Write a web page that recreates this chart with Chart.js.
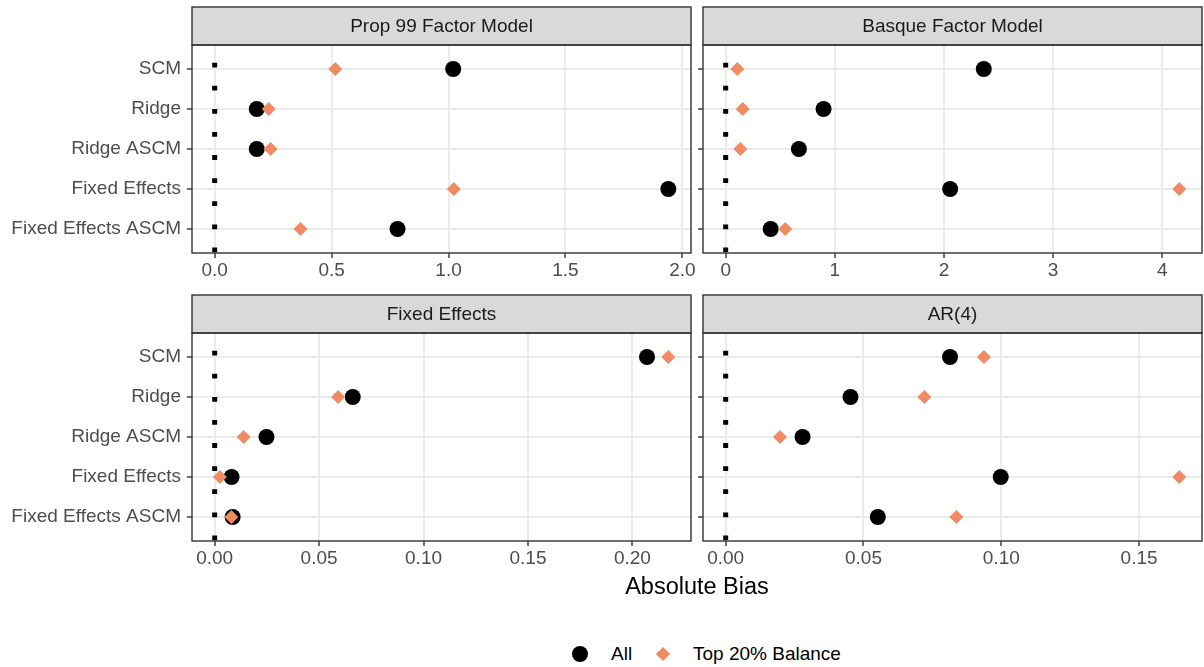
<!DOCTYPE html>
<html>
<head>
<meta charset="utf-8">
<script src="https://cdn.jsdelivr.net/npm/chart.js@4.4.1/dist/chart.umd.min.js"></script>
<style>
  html, body { margin:0; padding:0; background:#fff; }
  body { width:1204px; height:667px; position:relative; overflow:hidden; font-family:"Liberation Sans", Arial, sans-serif; }
  canvas { position:absolute; }
  .xtitle { position:absolute; left:192px; width:1010px; top:572px; text-align:center; font-size:23.5px; color:#000; line-height:28px; }
  .leg { position:absolute; top:642px; height:24px; line-height:24px; font-size:19px; color:#000; }
  .dot { position:absolute; width:16px; height:16px; border-radius:50%; background:#000; left:572px; top:646px; }
  .dia { position:absolute; width:10px; height:10px; background:#EF8A62; transform:rotate(45deg); left:658px; top:649px; }
</style>
</head>
<body>
<canvas id="c1" width="700" height="290" style="left:0;top:0"></canvas>
<canvas id="c2" width="514" height="290" style="left:690px;top:0"></canvas>
<canvas id="c3" width="700" height="288" style="left:0;top:290px"></canvas>
<canvas id="c4" width="514" height="288" style="left:690px;top:290px"></canvas>
<div class="xtitle">Absolute Bias</div>
<div class="dot"></div>
<div class="leg" style="left:611px">All</div>
<div class="dia"></div>
<div class="leg" style="left:693px">Top 20% Balance</div>
<script>
const categories = ['SCM', 'Ridge', 'Ridge ASCM', 'Fixed Effects', 'Fixed Effects ASCM'];
const panelTitles = ['Prop 99 Factor Model', 'Basque Factor Model', 'Fixed Effects', 'AR(4)'];

const prop99All = [1.02, 0.18, 0.18, 1.94, 0.782];
const prop99Top = [0.516, 0.231, 0.239, 1.023, 0.367];
const basqueAll = [2.365, 0.897, 0.671, 2.057, 0.412];
const basqueTop = [0.107, 0.156, 0.134, 4.157, 0.546];
const feAll = [0.207, 0.0661, 0.0248, 0.0081, 0.0086];
const feTop = [0.2172, 0.0591, 0.0139, 0.0025, 0.0080];
const arAll = [0.0814, 0.0453, 0.0279, 0.0998, 0.0552];
const arTop = [0.0937, 0.0721, 0.0197, 0.1646, 0.0837];

const prop99Ticks = [0, 0.5, 1, 1.5, 2];
const prop99TickLabels = ['0.0', '0.5', '1.0', '1.5', '2.0'];
const basqueTicks = [0, 1, 2, 3, 4];
const basqueTickLabels = ['0', '1', '2', '3', '4'];
const feTicks = [0, 0.05, 0.1, 0.15, 0.2];
const feTickLabels = ['0.00', '0.05', '0.10', '0.15', '0.20'];
const arTicks = [0, 0.05, 0.1, 0.15];
const arTickLabels = ['0.00', '0.05', '0.10', '0.15'];

const FONT = '"Liberation Sans", Arial, sans-serif';
const ORANGE = '#EF8A62';

const panelPlugin = {
  id: 'panelDeco',
  afterDraw(chart, args, opts) {
    const ctx = chart.ctx, a = chart.chartArea;
    ctx.save();
    const sh = 38;
    ctx.fillStyle = '#D9D9D9';
    ctx.fillRect(a.left, a.top - sh, a.right - a.left, sh);
    ctx.strokeStyle = '#333333';
    ctx.lineWidth = 1.4;
    ctx.strokeRect(a.left, a.top - sh, a.right - a.left, sh);
    ctx.strokeRect(a.left, a.top, a.right - a.left, a.bottom - a.top);
    ctx.fillStyle = '#1A1A1A';
    ctx.font = '19px ' + FONT;
    ctx.textAlign = 'center';
    ctx.textBaseline = 'middle';
    ctx.fillText(opts.title, (a.left + a.right) / 2, a.top - sh / 2 + 1);
    ctx.restore();
  }
};

function makePanel(id, title, allVals, topVals, ticks, tickLabels, showY, topPad) {
  const maxV = Math.max(0, ...allVals, ...topVals);
  const exp = maxV * 0.05;
  const leftW = showY ? 192 : 13;
  const rightPad = showY ? 9 : 2;
  new Chart(document.getElementById(id), {
    type: 'scatter',
    data: {
      datasets: [
        {
          label: 'Top 20% Balance',
          data: topVals.map((v, i) => ({ x: v, y: i + 1 })),
          pointStyle: 'rectRot', pointRadius: 7, pointHoverRadius: 7,
          backgroundColor: ORANGE, borderColor: ORANGE, borderWidth: 0,
          order: 1
        },
        {
          label: 'All',
          data: allVals.map((v, i) => ({ x: v, y: i + 1 })),
          pointStyle: 'circle', pointRadius: 8, pointHoverRadius: 8,
          backgroundColor: '#000', borderColor: '#000', borderWidth: 0,
          order: 2
        },
        {
          type: 'line',
          label: 'zero',
          data: [{ x: 0, y: 5.6 }, { x: 0, y: 0.4 }],
          borderColor: '#000', borderWidth: 5,
          borderDash: [4.8, 18.3], borderDashOffset: 22.4,
          borderCapStyle: 'butt',
          pointRadius: 0, fill: false,
          order: 3
        }
      ]
    },
    options: {
      responsive: false,
      animation: false,
      events: [],
      clip: false,
      layout: { autoPadding: false, padding: { top: topPad, right: rightPad, left: 0, bottom: 0 } },
      plugins: {
        legend: { display: false },
        tooltip: { enabled: false },
        panelDeco: { title: title }
      },
      scales: {
        x: {
          type: 'linear',
          min: -exp, max: maxV + exp,
          afterBuildTicks: (s) => { s.ticks = ticks.map(v => ({ value: v })); },
          afterFit: (s) => { s.height = 37; },
          ticks: {
            autoSkip: false, maxRotation: 0, padding: 1,
            color: '#4D4D4D', font: { family: FONT, size: 19 },
            callback: (v) => { const k = ticks.findIndex(t => Math.abs(t - v) < 1e-9); return k >= 0 ? tickLabels[k] : ''; }
          },
          grid: { color: '#EBEBEB', lineWidth: 2, tickColor: '#333333', tickLength: 5, tickWidth: 1.4 },
          border: { display: false }
        },
        y: {
          type: 'linear',
          reverse: true,
          min: 0.4, max: 5.6,
          afterBuildTicks: (s) => { s.ticks = categories.map((c, i) => ({ value: i + 1 })); },
          afterFit: (s) => { s.width = leftW; },
          ticks: {
            autoSkip: false, padding: 6,
            color: '#4D4D4D', font: { family: FONT, size: 19 },
            callback: (v) => showY ? (categories[Math.round(v) - 1] || '') : ''
          },
          grid: { color: '#EBEBEB', lineWidth: 2, tickColor: '#333333', tickLength: 5, tickWidth: 1.4 },
          border: { display: false }
        }
      }
    },
    plugins: [panelPlugin]
  });
}

makePanel('c1', panelTitles[0], prop99All, prop99Top, prop99Ticks, prop99TickLabels, true, 45);
makePanel('c2', panelTitles[1], basqueAll, basqueTop, basqueTicks, basqueTickLabels, false, 45);
makePanel('c3', panelTitles[2], feAll, feTop, feTicks, feTickLabels, true, 43);
makePanel('c4', panelTitles[3], arAll, arTop, arTicks, arTickLabels, false, 43);
</script>
</body>
</html>
